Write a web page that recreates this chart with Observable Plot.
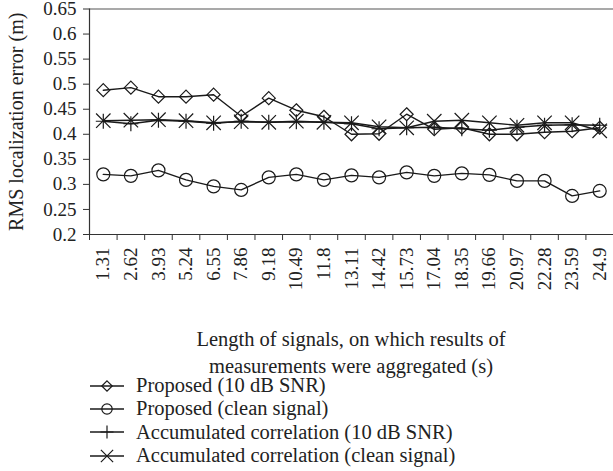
<!DOCTYPE html>
<html><head><meta charset="utf-8">
<script src="https://cdn.jsdelivr.net/npm/d3@7"></script>
<script src="https://cdn.jsdelivr.net/npm/@observablehq/plot@0.6"></script>
<style>
body{margin:0;background:#fff;font-family:"Liberation Serif",serif;color:#222}
#chart{width:613px;height:471px;overflow:hidden;position:relative}
#xtitle{width:613px;box-sizing:border-box;padding-left:89px;padding-top:6px;text-align:center;font-size:20.5px;line-height:27px}
#legend{margin-top:-6px;font-size:20.5px;line-height:23.4px}
.row{display:flex;align-items:center;height:23.4px}
.row svg{margin-left:88px;margin-right:10px;flex:none}
</style></head><body>
<div id="chart"></div>
<script>
const xLabels = ["1.31","2.62","3.93","5.24","6.55","7.86","9.18","10.49","11.8","13.11","14.42","15.73","17.04","18.35","19.66","20.97","22.28","23.59","24.9"];
const proposedSNR   = [0.488,0.493,0.475,0.475,0.479,0.436,0.472,0.448,0.435,0.400,0.401,0.440,0.410,0.413,0.400,0.400,0.404,0.406,0.413];
const proposedClean = [0.320,0.317,0.328,0.309,0.296,0.289,0.314,0.320,0.309,0.318,0.314,0.324,0.317,0.322,0.319,0.307,0.307,0.277,0.287];
const accSNR        = [0.426,0.421,0.428,0.426,0.422,0.426,0.424,0.425,0.424,0.421,0.411,0.413,0.414,0.411,0.408,0.414,0.418,0.419,0.418];
const accClean      = [0.427,0.428,0.429,0.427,0.423,0.425,0.424,0.426,0.424,0.423,0.415,0.413,0.426,0.428,0.423,0.418,0.423,0.423,0.407];
const seriesNames = ["Proposed (10 dB SNR)","Proposed (clean signal)","Accumulated correlation (10 dB SNR)","Accumulated correlation (clean signal)"];
const yTicks = [0.2,0.25,0.3,0.35,0.4,0.45,0.5,0.55,0.6,0.65];
const yTitle = "RMS localization error (m)";
const xTitle = ["Length of signals, on which results of","measurements were aggregated (s)"];

const R = size => Math.sqrt(size / Math.PI);
const symbols = [
  {draw(c, s){const r=R(s); c.moveTo(0,-r); c.lineTo(r,0); c.lineTo(0,r); c.lineTo(-r,0); c.closePath();}},
  {draw(c, s){const r=R(s); c.moveTo(r,0); c.arc(0,0,r,0,2*Math.PI);}},
  {draw(c, s){const r=R(s); c.moveTo(-r,0); c.lineTo(r,0); c.moveTo(0,-r); c.lineTo(0,r);}},
  {draw(c, s){const r=R(s)*0.72; c.moveTo(-r,-r); c.lineTo(r,r); c.moveTo(-r,r); c.lineTo(r,-r);}}
];
const radii = [6.5, 6.5, 7.5, 10];
const legendRadii = [5.2, 5.2, 6.5, 8.5];
const allSeries = [proposedSNR, proposedClean, accSNR, accClean];
const rows = allSeries.flatMap((vals, k) => vals.map((v, i) => ({x: i + 0.5, y: v, series: seriesNames[k], k})));
const centers = xLabels.map((_, i) => i + 0.5);
const ink = "#1a1a1a";

const plot = Plot.plot({
  width: 613, height: 320,
  marginLeft: 89, marginRight: 0, marginTop: 8.5, marginBottom: 86,
  style: {fontFamily: "'Liberation Serif', serif", fontSize: "19px", color: "#222", background: "transparent", overflow: "visible"},
  x: {domain: [0, xLabels.length]},
  y: {domain: [0.2, 0.65]},
  marks: [
    Plot.ruleY([0.65], {stroke: "#555", strokeWidth: 1.2}),
    Plot.axisY({ticks: yTicks, tickSize: 6, tickPadding: 7, tickFormat: d => String(+d.toFixed(2)), label: null, stroke: "#333"}),
    Plot.axisX({ticks: d3.range(xLabels.length), tickSize: 6, tickFormat: () => "", label: null, stroke: "#333"}),
    Plot.axisX({ticks: centers, tickSize: 0, tickPadding: 13, tickRotate: -90, tickFormat: d => xLabels[Math.floor(d)], label: null}),
    Plot.ruleX([0], {stroke: "#333", strokeWidth: 1.2}),
    Plot.ruleY([0.2], {stroke: "#333", strokeWidth: 1.2}),
    Plot.text([yTitle], {text: d => d, frameAnchor: "left", textAnchor: "middle", rotate: -90, dx: -73, fontSize: 20, fill: "#222"}),
    Plot.line(rows, {x: "x", y: "y", z: "series", stroke: ink, strokeWidth: 1.4}),
    ...symbols.map((sym, k) => Plot.dot(rows.filter(d => d.k === k), {x: "x", y: "y", symbol: sym, r: radii[k], stroke: ink, strokeWidth: 1.2, fill: "none"}))
  ]
});
const chart = document.getElementById("chart");
chart.appendChild(plot);

const xt = document.createElement("div");
xt.id = "xtitle";
xt.innerHTML = xTitle.join("<br>");
chart.appendChild(xt);

const leg = document.createElement("div");
leg.id = "legend";
seriesNames.forEach((name, k) => {
  const row = document.createElement("div");
  row.className = "row";
  const ns = "http://www.w3.org/2000/svg";
  const s = document.createElementNS(ns, "svg");
  s.setAttribute("width", 38); s.setAttribute("height", 20);
  const ln = document.createElementNS(ns, "line");
  ln.setAttribute("x1", 2); ln.setAttribute("x2", 36); ln.setAttribute("y1", 10); ln.setAttribute("y2", 10);
  ln.setAttribute("stroke", ink); ln.setAttribute("stroke-width", 1.3);
  s.appendChild(ln);
  const p = document.createElementNS(ns, "path");
  const rr = legendRadii[k];
  p.setAttribute("d", d3.symbol(symbols[k], Math.PI * rr * rr)());
  p.setAttribute("transform", "translate(19,10)");
  p.setAttribute("fill", "none"); p.setAttribute("stroke", ink); p.setAttribute("stroke-width", 1.2);
  s.appendChild(p);
  row.appendChild(s);
  const t = document.createElement("span");
  t.textContent = name;
  row.appendChild(t);
  leg.appendChild(row);
});
chart.appendChild(leg);
</script>
</body></html>
